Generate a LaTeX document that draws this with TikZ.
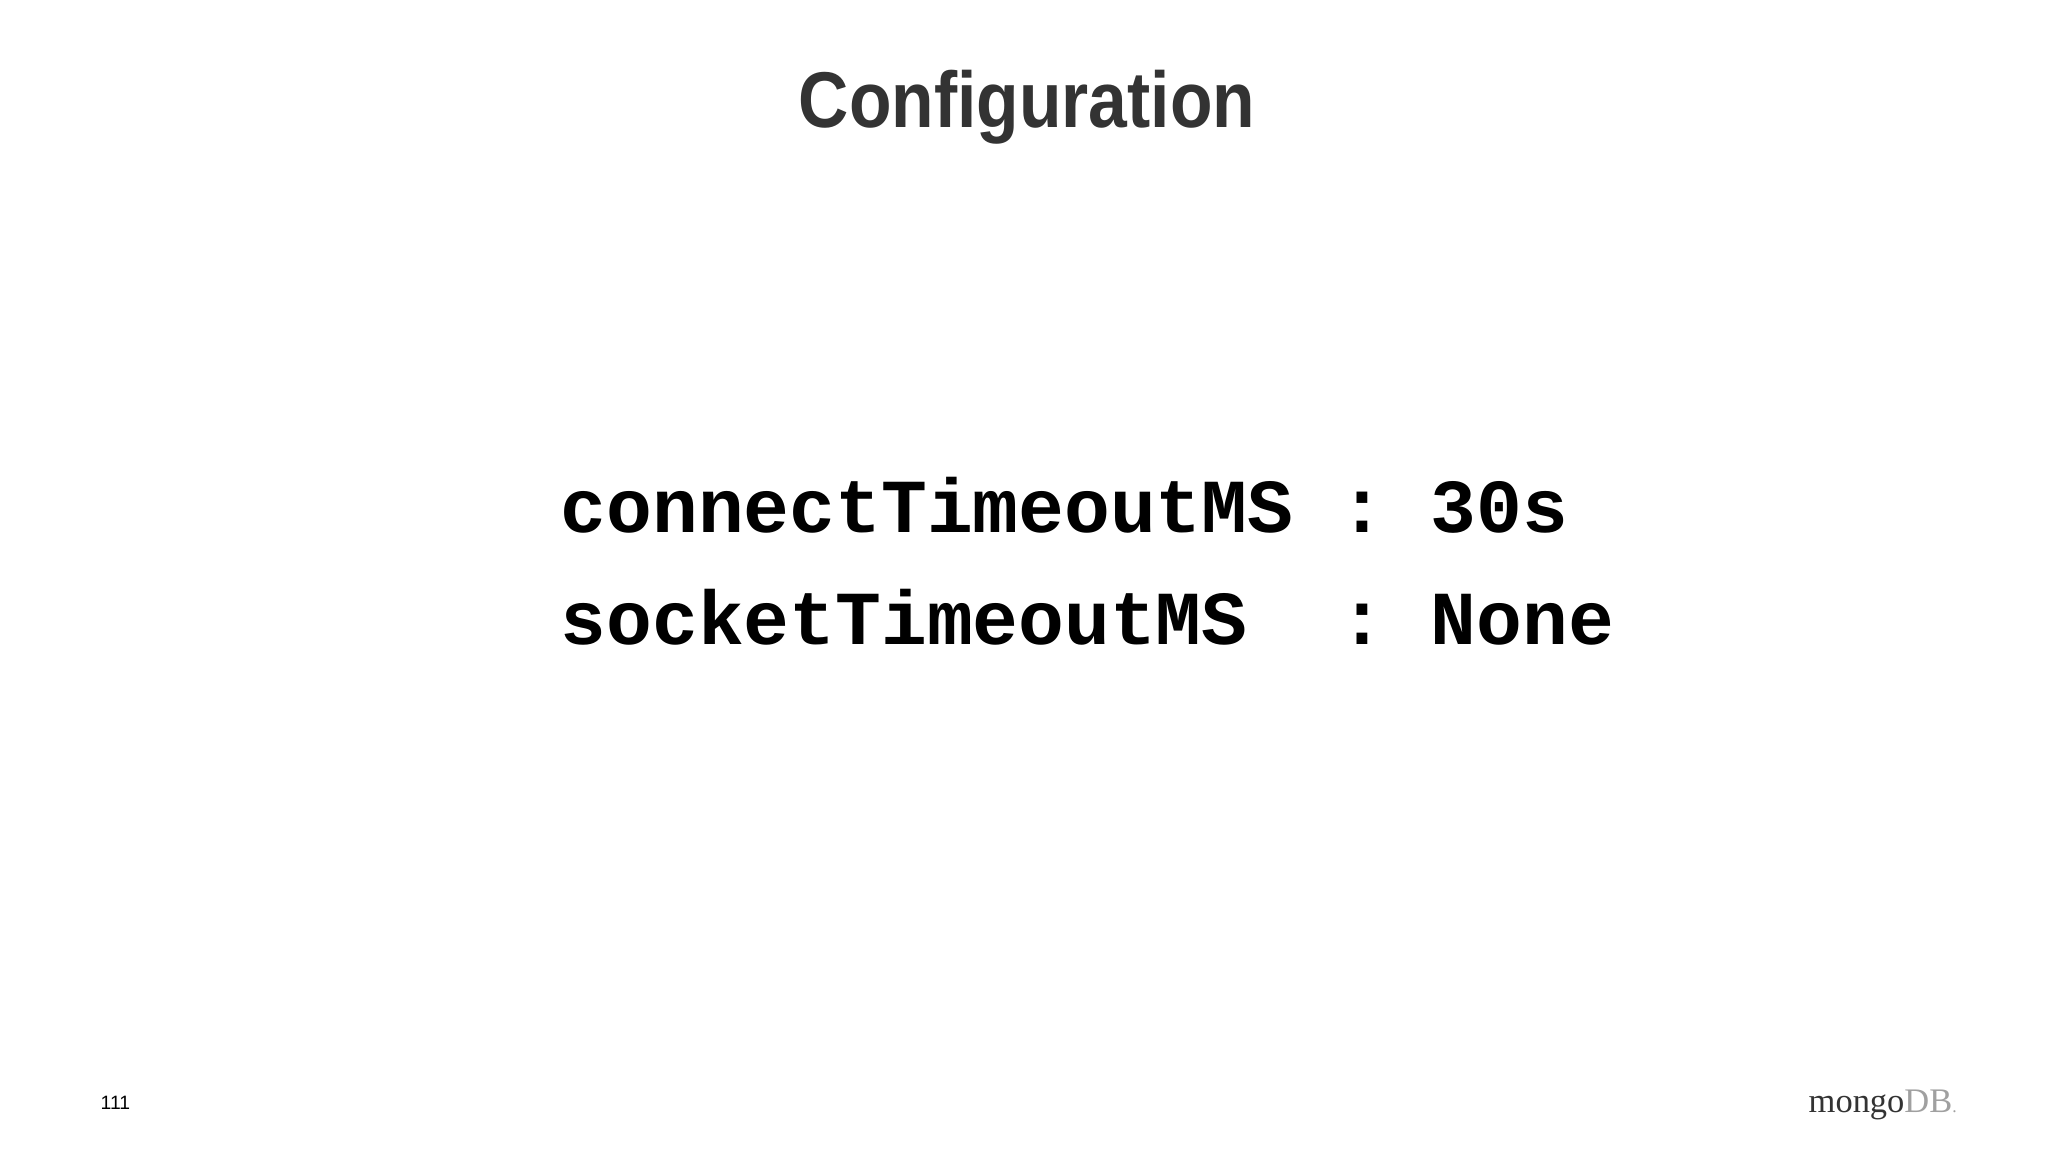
\documentclass[tikz,border=0pt]{standalone}
\usepackage{fontspec}
\setmainfont{Liberation Sans}
\newfontfamily\titlefont[FakeStretch=0.88]{Liberation Sans}
\newfontfamily\codefont{Liberation Mono}
\newfontfamily\logofont{Liberation Serif}
\definecolor{titlegray}{HTML}{333333}
\definecolor{dbgray}{HTML}{A0A0A0}
\begin{document}
\begin{tikzpicture}[x=0.01cm,y=-0.01cm]
\useasboundingbox[fill=white] (0,0) rectangle (2048,1152);
\tikzset{code/.style={anchor=base west,inner sep=0pt,font=\codefont\bfseries\fontsize{21.7}{26}\selectfont}}
\node[anchor=base,inner sep=0pt,text=titlegray,font=\titlefont\bfseries\fontsize{22.5}{27}\selectfont] (title) at (1027,128) {Configuration};
\node[code] (l1) at (560,533) {connectTimeoutMS : 30s};
\node[code] (l2) at (560,645) {socketTimeoutMS\ \ : None};
\node[anchor=base west,inner sep=0pt,font=\fontsize{5.5}{7}\selectfont] (pg) at (100,1109) {111};
\node[anchor=base west,inner sep=0pt,font=\logofont\fontsize{9.8}{12}\selectfont] (logo) at (1808,1112) {\textcolor{titlegray}{mongo}\textcolor{dbgray}{DB}\textcolor{dbgray}{\tiny.}};
\end{tikzpicture}
\end{document}
